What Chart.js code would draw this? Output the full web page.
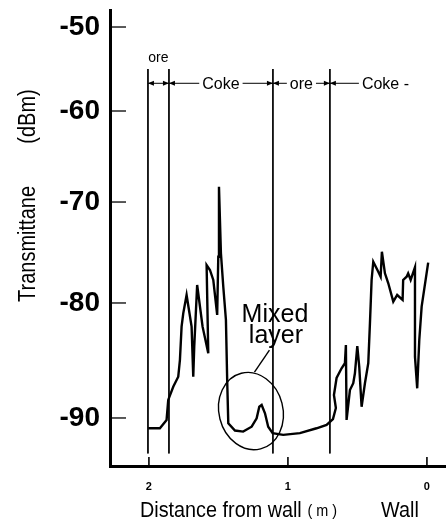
<!DOCTYPE html>
<html>
<head>
<meta charset="utf-8">
<script src="https://cdn.jsdelivr.net/npm/chart.js@4.4.1/dist/chart.umd.min.js"></script>
<style>
  html, body { margin: 0; padding: 0; background: #fff; }
  #wrap { width: 447px; height: 526px; position: relative; }
</style>
</head>
<body>
<div id="wrap"><canvas id="chart-1"></canvas></div>
<script>
// distance from wall (m) and transmittance (dBm)
const distance = [2.005, 1.921, 1.873, 1.861, 1.825, 1.789, 1.777, 1.765, 1.753, 1.729,
  1.693, 1.681, 1.674, 1.653, 1.614, 1.573, 1.585, 1.561, 1.537, 1.509,
  1.501, 1.496, 1.482, 1.465, 1.446, 1.437, 1.429, 1.381, 1.322, 1.261,
  1.225, 1.206, 1.189, 1.165, 1.142, 1.110, 1.034, 0.914, 0.794, 0.722,
  0.676, 0.655, 0.669, 0.650, 0.614, 0.590, 0.583, 0.578, 0.554, 0.530,
  0.518, 0.501, 0.487, 0.470, 0.446, 0.422, 0.410, 0.398, 0.386, 0.350,
  0.333, 0.324, 0.302, 0.278, 0.242, 0.214, 0.175, 0.171, 0.146, 0.135,
  0.117, 0.086, 0.086, 0.070, 0.055, 0.038, -0.009];
const transmittance = [-90.9, -90.9, -90.17, -88.43, -87.28, -86.41, -84.96, -82.06, -80.9, -79.21,
  -82.06, -86.41, -83.8, -78.22, -82.06, -84.37, -76.24, -76.73, -77.72, -81.04,
  -75.42, -68.32, -75.08, -78.39, -81.48, -86.7, -90.46, -91.1, -91.19, -90.76,
  -90.03, -89.02, -88.87, -89.59, -90.76, -91.33, -91.48, -91.33, -90.9, -90.61,
  -90.09, -89.13, -88.0, -86.52, -85.68, -85.24, -83.65, -90.17, -87.57, -86.98,
  -86.11, -83.74, -85.54, -89.02, -86.98, -85.24, -81.77, -77.72, -75.91, -76.9,
  -77.4, -74.92, -77.06, -78.05, -79.87, -79.21, -79.7, -77.72, -77.4, -77.06,
  -77.72, -76.47, -84.67, -87.42, -83.22, -80.32, -76.01];

// layer boundaries (m) and the zone names between them
const boundaries = [2.007, 1.856, 1.108, 0.698];
const zoneLabels = ['Coke', 'ore', 'Coke -'];
const boundaryTop = -55.0;
const boundaryBottom = -93.1;
const arrowLevel = -56.7;
const mixedLayer = { x: 1.266, y: -89.4 };

const xTicks = [2, 1, 0];
const yTicks = [-50, -60, -70, -80, -90];

// the printed dBm axis is not evenly spaced
const ySpacing = {
  values: [-94.2, -90, -80, -70, -60, -50, -48],
  fractions: [0, 0.1053, 0.3575, 0.5789, 0.7785, 0.9627, 1]
};

function interp(xs, ys, v) {
  let i = 0;
  while (i < xs.length - 2 && v > xs[i + 1]) i++;
  const t = (v - xs[i]) / (xs[i + 1] - xs[i]);
  return ys[i] + t * (ys[i + 1] - ys[i]);
}

class SpacedScale extends Chart.LinearScale {
  getPixelForValue(value) {
    if (value === null || isNaN(value)) return NaN;
    return this.getPixelForDecimal(interp(ySpacing.values, ySpacing.fractions, value));
  }
  getValueForPixel(pixel) {
    return interp(ySpacing.fractions, ySpacing.values, this.getDecimalForPixel(pixel));
  }
}
SpacedScale.id = 'spaced';
SpacedScale.defaults = Chart.LinearScale.defaults;
Chart.register(SpacedScale);

const FONT = '"Liberation Sans", Arial, sans-serif';

function line(ctx, x1, y1, x2, y2) {
  ctx.beginPath(); ctx.moveTo(x1, y1); ctx.lineTo(x2, y2); ctx.stroke();
}
function head(ctx, xt, yt, dir) {
  ctx.beginPath();
  ctx.moveTo(xt, yt);
  ctx.lineTo(xt - dir * 6, yt - 2.5);
  ctx.lineTo(xt - dir * 6, yt + 2.5);
  ctx.closePath();
  ctx.fill();
}

const decorations = {
  id: 'decorations',
  afterDraw(chart) {
    const { ctx, chartArea } = chart;
    const x = chart.scales.x, y = chart.scales.y;
    ctx.save();
    ctx.strokeStyle = '#000';
    ctx.fillStyle = '#000';

    // inward tick marks
    ctx.lineWidth = 1.3;
    yTicks.forEach(v => {
      const py = y.getPixelForValue(v);
      line(ctx, chartArea.left, py, chartArea.left + 16, py);
    });
    ctx.lineWidth = 1.6;
    xTicks.forEach(v => {
      const px = x.getPixelForValue(v);
      line(ctx, px, chartArea.bottom, px, chartArea.bottom - 9);
    });

    // zone arrows
    const ay = y.getPixelForValue(arrowLevel);
    const bx = boundaries.map(b => x.getPixelForValue(b));
    ctx.lineWidth = 1;
    ctx.font = '16px ' + FONT;
    ctx.textBaseline = 'middle';
    ctx.textAlign = 'center';

    line(ctx, bx[0], ay, bx[1], ay);
    head(ctx, bx[0], ay, -1); head(ctx, bx[1], ay, 1);

    for (let i = 1; i < 3; i++) {
      const a = bx[i], b = bx[i + 1], cx = (a + b) / 2;
      const w = ctx.measureText(zoneLabels[i - 1]).width;
      line(ctx, a, ay, cx - w / 2 - 3, ay);
      line(ctx, cx + w / 2 + 3, ay, b, ay);
      head(ctx, a, ay, -1); head(ctx, b, ay, 1);
      ctx.fillText(zoneLabels[i - 1], cx, ay + 1);
    }
    ctx.textAlign = 'left';
    line(ctx, bx[3], ay, bx[3] + 29, ay);
    head(ctx, bx[3], ay, -1);
    ctx.fillText(zoneLabels[2], bx[3] + 32, ay + 1);

    ctx.font = '14px ' + FONT;
    ctx.textAlign = 'center';
    ctx.fillText('ore', (bx[0] + bx[1]) / 2, ay - 25);

    // mixed layer marker
    const mx = x.getPixelForValue(mixedLayer.x), my = y.getPixelForValue(mixedLayer.y);
    ctx.lineWidth = 1.4;
    ctx.beginPath();
    ctx.ellipse(mx, my, 32, 39, -0.25, 0, Math.PI * 2);
    ctx.stroke();
    line(ctx, mx + 3.5, my - 39, mx + 18.5, my - 61);
    ctx.font = '25px ' + FONT;
    ctx.textBaseline = 'alphabetic';
    ctx.fillText('Mixed', mx + 24, my - 89);
    ctx.fillText('layer', mx + 25, my - 68);

    // axis titles
    ctx.save();
    ctx.translate(29, 0);
    ctx.rotate(-Math.PI / 2);
    ctx.scale(0.87, 1);
    ctx.font = '23px ' + FONT;
    ctx.textBaseline = 'middle';
    ctx.textAlign = 'center';
    ctx.fillText('Transmittane', -244 / 0.87, 0);
    ctx.fillText('(dBm)', -116.5 / 0.87, 0);
    ctx.restore();

    ctx.save();
    ctx.textBaseline = 'alphabetic';
    ctx.textAlign = 'left';
    ctx.translate(140, 517);
    ctx.scale(0.9, 1);
    ctx.font = '22px ' + FONT;
    ctx.fillText('Distance from wall', 0, 0);
    ctx.font = '16px ' + FONT;
    ctx.fillText('( m )', 186, -1);
    ctx.restore();

    ctx.save();
    ctx.translate(400, 517);
    ctx.scale(0.9, 1);
    ctx.font = '22px ' + FONT;
    ctx.fillText('Wall', 0, 0);
    ctx.restore();

    ctx.restore();
  }
};

const boundarySets = boundaries.map(b => ({
  data: [{ x: b, y: boundaryTop }, { x: b, y: boundaryBottom }],
  borderColor: '#000',
  borderWidth: 1,
  pointRadius: 0,
  fill: false
}));

const ctx1 = document.getElementById('chart-1').getContext('2d');
const myChart = new Chart(ctx1, {
  type: 'line',
  data: {
    datasets: [{
      label: 'Transmittance (dBm)',
      data: distance.map((d, i) => ({ x: d, y: transmittance[i] })),
      borderColor: '#000',
      borderWidth: 2.4,
      pointRadius: 0,
      tension: 0,
      fill: false
    }, ...boundarySets]
  },
  options: {
    responsive: true,
    maintainAspectRatio: false,
    animation: false,
    layout: { padding: { top: 10, right: 2, left: 0, bottom: 0 } },
    plugins: { legend: { display: false }, tooltip: { enabled: false } },
    scales: {
      x: {
        type: 'linear',
        reverse: true,
        min: -0.13,
        max: 2.28,
        afterBuildTicks: s => { s.ticks = xTicks.map(v => ({ value: v })); },
        afterFit: s => { s.height = 60; s.paddingLeft = 0; s.paddingRight = 0; },
        grid: { drawOnChartArea: false, drawTicks: false },
        border: { display: true, color: '#000', width: 3 },
        ticks: { color: '#000', font: { family: FONT, size: 11, weight: 'bold' }, padding: 14, maxRotation: 0 }
      },
      y: {
        type: 'spaced',
        min: -94.2,
        max: -48,
        afterBuildTicks: s => { s.ticks = yTicks.map(v => ({ value: v })); },
        afterFit: s => { s.width = 110; s.paddingTop = 0; s.paddingBottom = 0; },
        grid: { drawOnChartArea: false, drawTicks: false },
        border: { display: true, color: '#000', width: 3 },
        ticks: { color: '#000', font: { family: FONT, size: 28, weight: 'bold' }, padding: 10 }
      }
    }
  },
  plugins: [decorations]
});
</script>
</body>
</html>
